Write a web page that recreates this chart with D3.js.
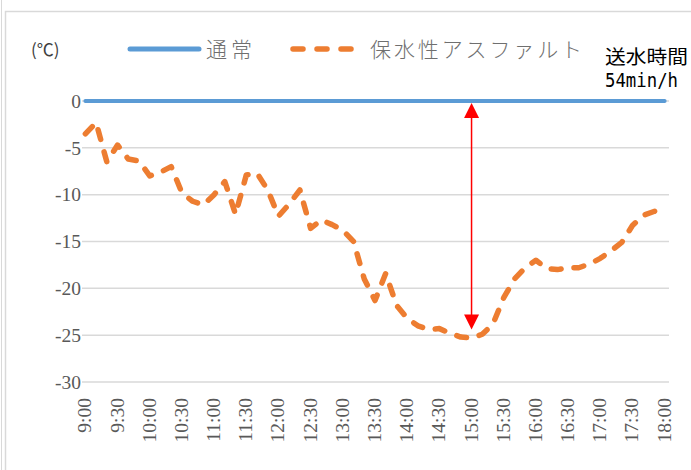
<!DOCTYPE html>
<html><head><meta charset="utf-8">
<script src="https://cdn.jsdelivr.net/npm/d3@7"></script>
<style>html,body{margin:0;padding:0;background:#fff;}</style>
</head><body>
<svg id="c" width="691" height="470"></svg>
<script>
// ---- data ----
const times = [];
for (let h = 9; h <= 18; h++) for (let m = 0; m < 60; m += 10) { if (h === 18 && m > 0) break; times.push(h + ":" + (m === 0 ? "00" : m)); }
const tickLabels = ["9:00","9:30","10:00","10:30","11:00","11:30","12:00","12:30","13:00","13:30","14:00","14:30","15:00","15:30","16:00","16:30","17:00","17:30","18:00"];
const normalValues = times.map(() => 0);
const asphaltValues = [
  -3.5,-2.3,-6.5,-4.7,-6.2,-6.4,-8.0,-7.6,-7.0,-9.8,
  -10.7,-11.1,-10.0,-8.6,-12.1,-7.9,-7.7,-9.5,-12.3,-11.0,
  -9.5,-13.6,-12.7,-13.2,-13.8,-15.0,-19.0,-21.3,-18.4,-21.8,
  -23.2,-24.0,-24.4,-24.3,-24.8,-25.2,-25.3,-24.9,-23.8,-21.0,
  -19.0,-17.8,-17.0,-17.9,-18.0,-17.8,-17.8,-17.4,-16.8,-16.0,
  -15.1,-13.3,-12.2,-11.8,-11.4];
const yTicks = [0,-5,-10,-15,-20,-25,-30];
const seriesNames = ["通常","保水性アスファルト"];
const noteLines = ["送水時間","54min/h"];
const arrowTime = "15:00", arrowFrom = 0, arrowTo = -24.4;

// ---- drawing ----
const svg = d3.select("#c");
// chart frame
svg.append("line").attr("x1",1.5).attr("x2",1.5).attr("y1",0).attr("y2",470).attr("stroke","#d9d9d9");
svg.append("rect").attr("x",5.5).attr("y",11.5).attr("width",700).attr("height",470)
  .attr("fill","none").attr("stroke","#d9d9d9").attr("stroke-width",1.5);

const x = d3.scalePoint().domain(times).range([80,670]).padding(0.5);
const y = d3.scaleLinear().domain([-30,0]).range([382,101]);

// gridlines
svg.append("g").selectAll("line").data(yTicks).join("line")
  .attr("x1",82).attr("x2",669).attr("y1",d=>y(d)).attr("y2",d=>y(d))
  .attr("stroke","#d9d9d9").attr("stroke-width",1.5);

// y labels
svg.append("g").selectAll("text").data(yTicks).join("text")
  .attr("x",81).attr("y",d=>y(d)).attr("dy","0.35em").attr("text-anchor","end")
  .attr("font-family","'Liberation Serif', serif").attr("font-size",19.5).attr("fill","#595959")
  .text(d=>d);

// x labels
svg.append("g").selectAll("text").data(tickLabels).join("text")
  .attr("transform",d=>`translate(${x(d)+6},398) rotate(-90)`)
  .attr("text-anchor","end")
  .attr("font-family","'Liberation Serif', serif").attr("font-size",19.5).attr("fill","#595959")
  .text(d=>d);

// series
const line = d3.line().x((d,i)=>x(times[i])).y(d=>y(d));
svg.append("path").datum(normalValues).attr("d",line).attr("fill","none")
  .attr("stroke","#5b9bd5").attr("stroke-width",4).attr("stroke-linecap","round");
svg.append("path").datum(asphaltValues).attr("d",line).attr("fill","none")
  .attr("stroke","#ed7d31").attr("stroke-width",5.5).attr("stroke-linecap","round")
  .attr("stroke-linejoin","round").attr("stroke-dasharray","10 13");

// arrow
const ax = x(arrowTime);
svg.append("line").attr("x1",ax).attr("x2",ax).attr("y1",y(arrowFrom)+14).attr("y2",y(arrowTo)-14)
  .attr("stroke","#ff0000").attr("stroke-width",1.5);
const tri = (tipY, dir) => `M${ax},${tipY} L${ax-7.5},${tipY+dir*15} L${ax+7.5},${tipY+dir*15} Z`;
svg.append("path").attr("d",tri(y(arrowFrom)+2,1)).attr("fill","#ff0000");
svg.append("path").attr("d",tri(y(arrowTo),-1)).attr("fill","#ff0000");

// unit
svg.append("text").attr("x",31).attr("y",56).attr("font-family","'Noto Sans CJK JP', sans-serif")
  .attr("font-size",17).attr("fill","#404040").text("(℃)");

// legend
const lg = svg.append("g");
lg.append("line").attr("x1",130).attr("x2",199).attr("y1",49).attr("y2",49)
  .attr("stroke","#5b9bd5").attr("stroke-width",5).attr("stroke-linecap","round");
lg.append("text").attr("x",206).attr("y",57).attr("font-family","'Noto Sans CJK JP', sans-serif")
  .attr("font-size",21).attr("font-weight",300).attr("fill","#6f6f6f").attr("textLength",46).text(seriesNames[0]);
lg.append("line").attr("x1",293).attr("x2",354).attr("y1",49).attr("y2",49)
  .attr("stroke","#ed7d31").attr("stroke-width",5.5).attr("stroke-linecap","round").attr("stroke-dasharray","10 14");
lg.append("text").attr("x",370).attr("y",57).attr("font-family","'Noto Sans CJK JP', sans-serif")
  .attr("font-size",21).attr("font-weight",300).attr("fill","#6f6f6f").attr("textLength",212).text(seriesNames[1]);

// note
svg.append("text").attr("x",605).attr("y",64).attr("font-family","'Noto Sans CJK JP', sans-serif")
  .attr("font-size",19).attr("fill","#000").attr("textLength",83).attr("lengthAdjust","spacingAndGlyphs").text(noteLines[0]);
svg.append("text").attr("x",605).attr("y",87).attr("font-family","'DejaVu Sans Mono', monospace")
  .attr("font-size",19).attr("fill","#000").attr("textLength",73).attr("lengthAdjust","spacingAndGlyphs").text(noteLines[1]);
</script>
</body></html>
